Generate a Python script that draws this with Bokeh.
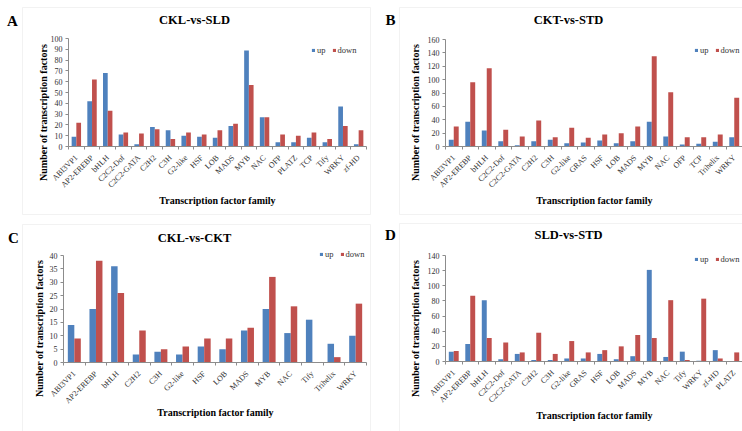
from math import pi
from bokeh.plotting import figure
from bokeh.models import (Range1d, FixedTicker, Label, BoxAnnotation,
                          Legend, LegendItem, ColumnDataSource)
from bokeh.transform import dodge
from bokeh.layouts import gridplot
from bokeh.embed import file_html
from bokeh.resources import INLINE

# ---------------- data ----------------
a_families = ["ABI3VP1", "AP2-EREBP", "bHLH", "C2C2-Dof", "C2C2-GATA", "C2H2", "C3H",
              "G2-like", "HSF", "LOB", "MADS", "MYB", "NAC", "OFP", "PLATZ", "TCP",
              "Tify", "WRKY", "zf-HD"]
a_up = [9, 42, 68, 11, 2, 18, 15, 10, 9, 8, 19, 89, 27, 4, 4, 8, 4, 37, 2]
a_down = [22, 62, 33, 13, 12, 16, 7, 13, 11, 15, 21, 57, 27, 11, 10, 13, 7, 19, 15]

b_families = ["ABI3VP1", "AP2-EREBP", "bHLH", "C2C2-Dof", "C2C2-GATA", "C2H2", "C3H",
              "G2-like", "GRAS", "HSF", "LOB", "MADS", "MYB", "NAC", "OFP", "TCP",
              "Trihelix", "WRKY"]
b_up = [10, 37, 24, 8, 2, 8, 10, 5, 6, 9, 5, 8, 37, 15, 3, 4, 7, 14]
b_down = [30, 96, 117, 25, 15, 39, 14, 28, 13, 18, 20, 30, 135, 81, 14, 14, 18, 73]

c_families = ["ABI3VP1", "AP2-EREBP", "bHLH", "C2H2", "C3H", "G2-like", "HSF", "LOB",
              "MADS", "MYB", "NAC", "Tify", "Trihelix", "WRKY"]
c_up = [14, 20, 36, 3, 4, 3, 6, 5, 12, 20, 11, 16, 7, 10]
c_down = [9, 38, 26, 12, 5, 6, 9, 9, 13, 32, 21, 0, 2, 22]

d_families = ["ABI3VP1", "AP2-EREBP", "bHLH", "C2C2-Dof", "C2C2-GATA", "C2H2", "C3H",
              "G2-like", "GRAS", "HSF", "LOB", "MADS", "MYB", "NAC", "Tify", "WRKY",
              "zf-HD", "PLATZ"]
d_up = [13, 23, 81, 3, 10, 2, 2, 4, 4, 10, 3, 7, 121, 6, 13, 1, 15, 0]
d_down = [14, 87, 31, 25, 12, 38, 10, 27, 12, 15, 20, 35, 31, 81, 2, 83, 4, 12]

titles = ["CKL-vs-SLD", "CKT-vs-STD", "CKL-vs-CKT", "SLD-vs-STD"]
letters = ["A", "B", "C", "D"]
y_ticks = [list(range(0, 101, 10)), list(range(0, 161, 20)),
           list(range(0, 41, 5)), list(range(0, 141, 20))]
y_label = "Number of transcription factors"
x_label = "Transcription factor family"

BLUE = "#4F81BD"
RED = "#C0504D"
SERIF = "Liberation Serif"
GRAY = "#8c8c8c"


def make_panel(letter, title, cats, up, down, yticks, W, H,
               px_left, px_right, py_zero, py_top,
               box, letter_xy, title_xy, ylab_xy, xlab_xy, leg_xy):
    """All geometry arguments are canvas pixels measured from the top-left."""
    n = len(cats)
    ymax = yticks[-1]
    # x: category i centred on i; boundaries -0.5 .. n-0.5 map to px_left .. px_right
    kx = (px_right - px_left) / n
    x0 = -0.5 - px_left / kx
    x1 = n - 0.5 + (W - px_right) / kx
    # y: 0 at py_zero, ymax at py_top
    ky = (py_zero - py_top) / ymax
    y0 = -(H - py_zero) / ky
    y1 = ymax + py_top / ky

    p = figure(width=W, height=H, x_range=Range1d(x0, x1), y_range=Range1d(y0, y1),
               output_backend="svg", toolbar_location=None, title=None,
               min_border_left=0, min_border_right=0, min_border_top=0,
               min_border_bottom=0)
    p.outline_line_color = None
    p.xgrid.grid_line_color = None
    p.ygrid.grid_line_color = None
    p.background_fill_color = "white"
    p.border_fill_color = "white"

    src = ColumnDataSource(dict(idx=list(range(n)), cat=cats, up=up, down=down))
    r1 = p.vbar(x=dodge("idx", -0.15), top="up", width=0.3,
                source=src, fill_color=BLUE, line_color=None)
    r2 = p.vbar(x=dodge("idx", 0.15), top="down", width=0.3,
                source=src, fill_color=RED, line_color=None)

    ax = p.xaxis[0]
    ax.fixed_location = 0
    ax.bounds = (-0.5, n - 0.5)
    ax.ticker = FixedTicker(ticks=list(range(n)),
                            minor_ticks=[i - 0.5 for i in range(n + 1)])
    ax.major_label_overrides = {i: c for i, c in enumerate(cats)}
    ax.major_label_orientation = pi / 4
    ax.major_tick_line_color = None
    ax.minor_tick_line_color = GRAY
    ax.minor_tick_out = 3
    ax.minor_tick_in = 0
    ax.axis_line_color = GRAY
    ax.major_label_text_font = SERIF
    ax.major_label_text_font_size = "8px"
    ax.major_label_text_color = "#333333"
    ax.major_label_standoff = 4

    ay = p.yaxis[0]
    ay.fixed_location = -0.5
    ay.bounds = (0, ymax)
    ay.ticker = FixedTicker(ticks=yticks)
    ay.minor_tick_line_color = None
    ay.axis_line_color = GRAY
    ay.major_tick_line_color = GRAY
    ay.major_tick_out = 3
    ay.major_tick_in = 0
    ay.major_label_text_font = SERIF
    ay.major_label_text_font_size = "8px"
    ay.major_label_text_color = "#333333"
    ay.major_label_standoff = 3

    def sy(y):
        return H - y

    p.add_layout(BoxAnnotation(left=box[0], right=box[1], top=sy(box[2]), bottom=sy(box[3]),
                               left_units="screen", right_units="screen",
                               top_units="screen", bottom_units="screen",
                               fill_color=None, line_color="#d4d4d4", line_width=1,
                               level="underlay"))

    def lab(xy, text, size, angle=0.0):
        p.add_layout(Label(x=xy[0], y=sy(xy[1]), x_units="screen", y_units="screen",
                           text=text, text_font=SERIF, text_font_style="bold",
                           text_font_size=size, text_align="center",
                           text_baseline="middle", angle=angle, text_color="black"))

    lab(letter_xy, letter, "15px")
    lab(title_xy, title, "12.5px")
    lab(ylab_xy, y_label, "10px", pi / 2)
    lab(xlab_xy, x_label, "10px")

    legend = Legend(items=[LegendItem(label="up", renderers=[r1]),
                           LegendItem(label="down", renderers=[r2])],
                    location=(leg_xy[0], sy(leg_xy[1])), orientation="horizontal",
                    border_line_color=None, background_fill_alpha=0,
                    padding=0, margin=0, spacing=6, label_standoff=2,
                    glyph_width=4, glyph_height=4, label_width=4, label_height=9,
                    label_text_font=SERIF, label_text_font_size="8.5px",
                    label_text_color="#333333")
    p.add_layout(legend)
    return p


pA = make_panel(letters[0], titles[0], a_families, a_up, a_down, y_ticks[0], 371, 215,
                px_left=68, px_right=366, py_zero=146, py_top=38,
                box=(22, 370, 7, 214), letter_xy=(12, 20), title_xy=(194, 19),
                ylab_xy=(43, 112), xlab_xy=(217, 200), leg_xy=(311, 55))
pB = make_panel(letters[1], titles[1], b_families, b_up, b_down, y_ticks[1], 371, 215,
                px_left=74, px_right=371, py_zero=146, py_top=39,
                box=(28, 380, 7, 214), letter_xy=(19, 19), title_xy=(197, 19),
                ylab_xy=(44, 112), xlab_xy=(223, 200), leg_xy=(323, 55))
pC = make_panel(letters[2], titles[2], c_families, c_up, c_down, y_ticks[2], 371, 216,
                px_left=63, px_right=366, py_zero=147, py_top=40,
                box=(22, 370, 9, 230), letter_xy=(13, 22), title_xy=(194, 22),
                ylab_xy=(39, 113), xlab_xy=(215, 197), leg_xy=(319, 44))
pD = make_panel(letters[3], titles[3], d_families, d_up, d_down, y_ticks[3], 371, 216,
                px_left=74, px_right=371, py_zero=146, py_top=40,
                box=(28, 380, 8, 230), letter_xy=(19, 19), title_xy=(197, 19),
                ylab_xy=(44, 113), xlab_xy=(223, 200), leg_xy=(323, 49))

grid = gridplot([[pA, pB], [pC, pD]], toolbar_location=None)
open("out.html", "w").write(file_html(grid, INLINE))
